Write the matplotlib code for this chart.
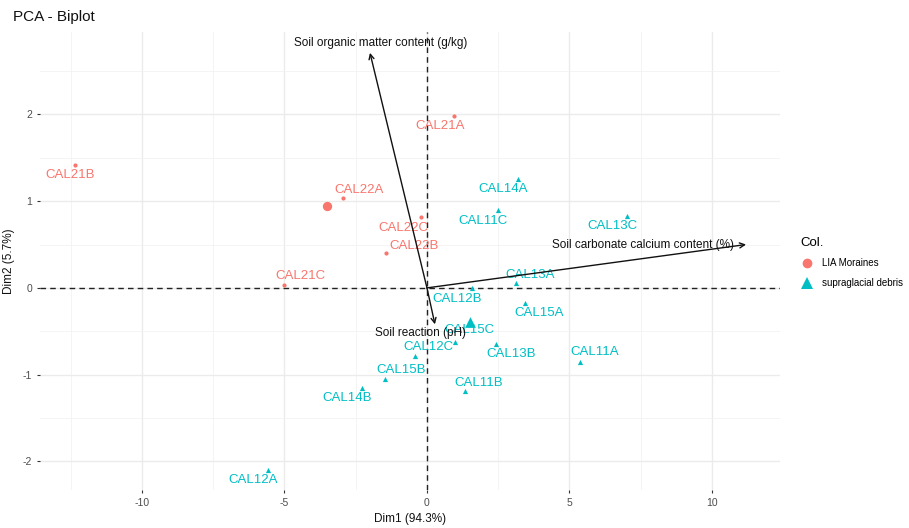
import numpy as np
import matplotlib.pyplot as plt
from matplotlib.lines import Line2D

plt.rcParams['font.family'] = ['Liberation Sans', 'DejaVu Sans']
plt.rcParams['axes.unicode_minus'] = False

# individuals (PCA scores)
lia_names = ['CAL21A', 'CAL21B', 'CAL21C', 'CAL22A', 'CAL22B', 'CAL22C']
lia_x = [0.95, -12.35, -5.00, -2.93, -1.45, -0.22]
lia_y = [1.98, 1.42, 0.03, 1.04, 0.40, 0.82]

sup_names = ['CAL11A', 'CAL11B', 'CAL11C', 'CAL12A', 'CAL12B', 'CAL12C', 'CAL13A',
             'CAL13B', 'CAL13C', 'CAL14A', 'CAL14B', 'CAL15A', 'CAL15B', 'CAL15C']
sup_x = [5.37, 1.33, 2.48, -5.58, 1.59, -0.42, 3.14, 2.44, 7.03, 3.19, -2.29, 3.44, -1.47, 0.98]
sup_y = [-0.86, -1.19, 0.90, -2.10, 0.00, -0.79, 0.06, -0.65, 0.83, 1.26, -1.15, -0.17, -1.05, -0.62]

# variables (loadings, scaled)
var_names = ['Soil organic matter content (g/kg)', 'Soil carbonate calcium content (%)', 'Soil reaction (pH)']
var_x = [-2.00, 11.20, 0.28]
var_y = [2.71, 0.50, -0.42]

group_names = ['LIA Moraines', 'supraglacial debris']
red = '#F8766D'
cyan = '#00BFC4'

# label offsets in pixels (ggrepel look)
lab_off = {
    'CAL21A': (-14, -10), 'CAL21B': (-5, -10), 'CAL21C': (16, 9), 'CAL22A': (16, 8),
    'CAL22B': (28, 7), 'CAL22C': (-17, -11),
    'CAL11A': (15, 10), 'CAL11B': (14, 8), 'CAL11C': (-15, -11), 'CAL12A': (-15, -10),
    'CAL12B': (-15, -11), 'CAL12C': (13, 9), 'CAL13A': (14, 8), 'CAL13B': (15, -10),
    'CAL13C': (-15, -10), 'CAL14A': (-15, -10), 'CAL14B': (-15, -10), 'CAL15A': (14, -10),
    'CAL15B': (16, 9), 'CAL15C': (15, 12),
}
var_off = [(11, 10), (-103, 0), (-14, -9)]

fig = plt.figure(figsize=(9.09, 5.28), dpi=100)
ax = fig.add_axes([40/909, 38/528, 740/909, 458/528])
ax.set_axisbelow(True)

ax.set_xlim(-13.58, 12.39)
ax.set_ylim(-2.33, 2.95)
ax.set_xticks([-10, -5, 0, 5, 10])
ax.set_yticks([-2, -1, 0, 1, 2])
ax.set_xticks([-12.5, -7.5, -2.5, 2.5, 7.5], minor=True)
ax.set_yticks([-1.5, -0.5, 0.5, 1.5, 2.5], minor=True)
ax.grid(which='major', color='#EBEBEB', lw=1.0)
ax.grid(which='minor', color='#F2F2F2', lw=0.6)
for s in ax.spines.values():
    s.set_visible(False)
ax.tick_params(which='major', length=2.5, width=0.8, color='#333333', labelcolor='#4D4D4D',
               labelsize=7.5, pad=3)
ax.tick_params(which='minor', length=0)

ax.axhline(0, color='#222222', ls=(0, (4, 3)), lw=1.0, zorder=2)
ax.axvline(0, color='#222222', ls=(0, (4, 3)), lw=1.0, zorder=2)

# points
ax.scatter(lia_x, lia_y, s=9, marker='o', color=red, zorder=3, linewidths=0)
ax.scatter(sup_x, sup_y, s=14, marker='^', color=cyan, zorder=3, linewidths=0)
# group centroids
ax.scatter([np.mean(lia_x)], [np.mean(lia_y)], s=45, marker='o', color=red, zorder=3, linewidths=0)
ax.scatter([np.mean(sup_x)], [np.mean(sup_y)], s=60, marker='^', color=cyan, zorder=3, linewidths=0)

for n, x, y in zip(lia_names, lia_x, lia_y):
    ax.annotate(n, (x, y), xytext=lab_off[n], textcoords='offset pixels', ha='center', va='center',
                color=red, fontsize=9.5, zorder=4)
for n, x, y in zip(sup_names, sup_x, sup_y):
    ax.annotate(n, (x, y), xytext=lab_off[n], textcoords='offset pixels', ha='center', va='center',
                color=cyan, fontsize=9.5, zorder=4)

# variable arrows
for n, x, y, off in zip(var_names, var_x, var_y, var_off):
    ax.annotate('', xy=(x, y), xytext=(0, 0),
                arrowprops=dict(arrowstyle='->', color='#111111', lw=1.0, mutation_scale=9,
                                shrinkA=0, shrinkB=0), zorder=5)
    ax.annotate(n, (x, y), xytext=off, textcoords='offset pixels', ha='center', va='center',
                color='#111111', fontsize=8.5, zorder=6)

ax.set_xlabel('Dim1 (94.3%)', fontsize=8.5, color='#111111', labelpad=4)
ax.set_ylabel('Dim2 (5.7%)', fontsize=8.5, color='#111111', labelpad=6)

fig.text(13/909, 1 - 17/528, 'PCA - Biplot', fontsize=11, color='#111111', va='center', ha='left')

handles = [Line2D([], [], marker='o', ls='', color=red, markersize=7, markeredgewidth=0),
           Line2D([], [], marker='^', ls='', color=cyan, markersize=8, markeredgewidth=0)]
fig.legend(handles, group_names, title='Col.', loc='upper left', bbox_to_anchor=(792/909, 1 - 228/528),
           frameon=False, fontsize=7, title_fontsize=9.5, handletextpad=1.0, labelspacing=1.0,
           handlelength=1.2, alignment='left')

fig.savefig('out.png', dpi=100)
